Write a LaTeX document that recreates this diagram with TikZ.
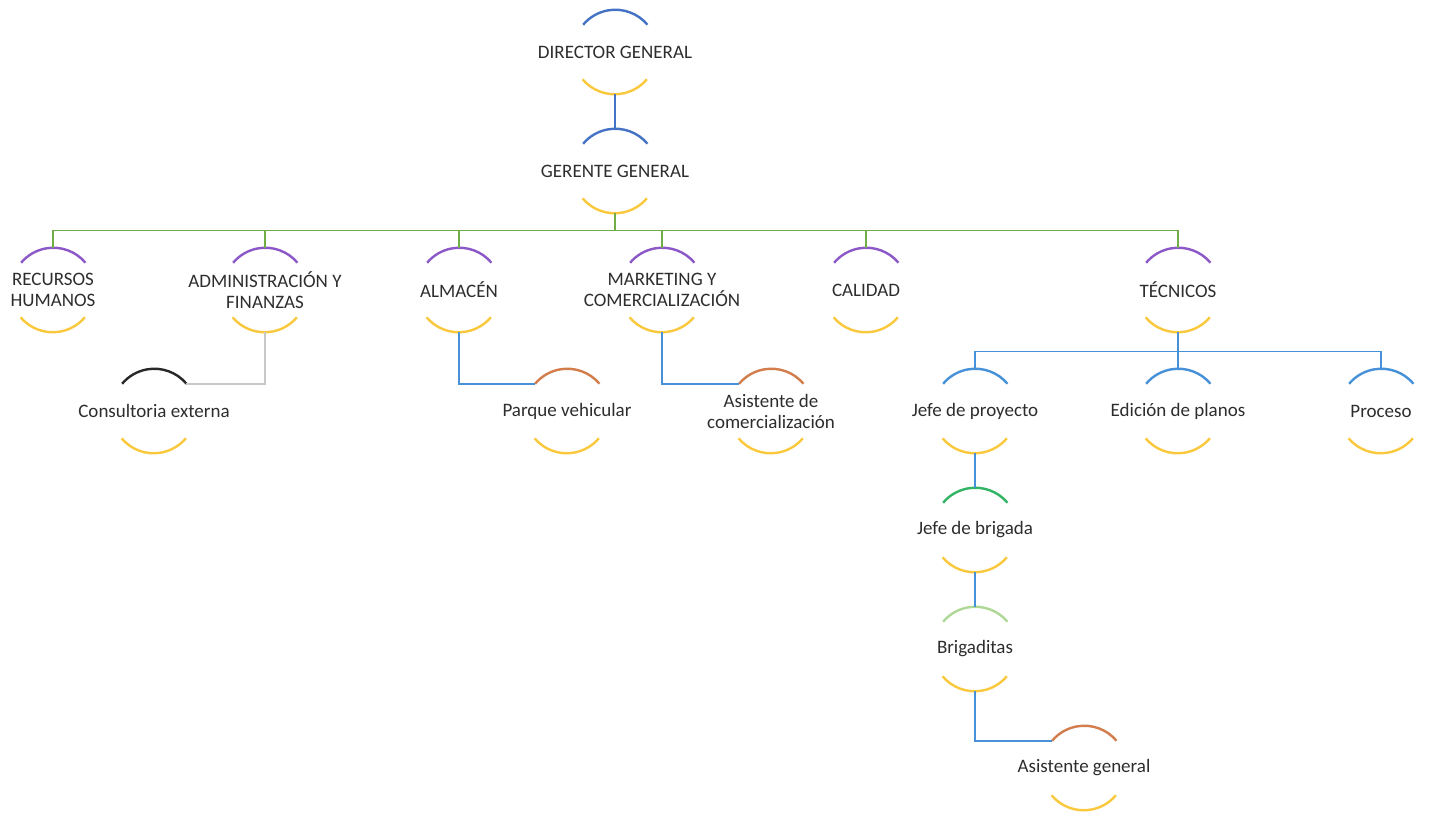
\documentclass[tikz,border=0pt]{standalone}
\usepackage{fontspec}
\setmainfont{Carlito}
\definecolor{azul}{RGB}{68,114,196}
\definecolor{morado}{RGB}{140,88,200}
\definecolor{negro}{RGB}{40,40,40}
\definecolor{naranja}{RGB}{210,125,75}
\definecolor{celeste}{RGB}{70,145,215}
\definecolor{verdeosc}{RGB}{50,180,100}
\definecolor{verdeclaro}{RGB}{175,215,150}
\definecolor{amarillo}{RGB}{250,200,60}
\definecolor{verde}{RGB}{112,173,71}
\definecolor{gris}{RGB}{200,200,200}
\definecolor{gristexto}{RGB}{45,45,45}
\tikzset{
  puesto/.style={circle, minimum size=42pt, inner sep=0pt},
  texto/.style={font=\fontsize{9.5}{10.5}\selectfont, text=gristexto, align=center},
  arco/.style={line width=1.2pt},
  linea/.style={line width=0.9pt},
}
\begin{document}
\begin{tikzpicture}[x=0.5pt, y=0.5pt]
                \useasboundingbox (0,0) rectangle (1430,-814);

                % direccion
                \node[puesto, label={[texto]center:DIRECTOR GENERAL}] (dg) at (615,-52) {};
                \node[puesto, label={[texto]center:GERENTE GENERAL}] (gg) at (615,-171) {};

                % areas
                \node[puesto, label={[texto]center:RECURSOS\\HUMANOS}] (rh) at (53,-290) {};
                \node[puesto, label={[texto]center:ADMINISTRACIÓN Y\\FINANZAS}] (adm) at (265,-290) {};
                \node[puesto, label={[texto]center:ALMACÉN}] (alm) at (459,-290) {};
                \node[puesto, label={[texto]center:MARKETING Y\\COMERCIALIZACIÓN}] (mkt) at (662,-290) {};
                \node[puesto, label={[texto]center:CALIDAD}] (cal) at (866,-290) {};
                \node[puesto, label={[texto]center:TÉCNICOS}] (tec) at (1178,-290) {};

                % tercer nivel
                \node[puesto, label={[texto]center:Consultoria externa}] (cons) at (154,-411) {};
                \node[puesto, label={[texto]center:Parque vehicular}] (par) at (567,-411) {};
                \node[puesto, label={[texto]center:Asistente de\\comercialización}] (asc) at (771,-411) {};
                \node[puesto, label={[texto]center:Jefe de proyecto}] (jp) at (975,-411) {};
                \node[puesto, label={[texto]center:Edición de planos}] (ed) at (1178,-411) {};
                \node[puesto, label={[texto]center:Proceso}] (pro) at (1381,-411) {};

                \node[puesto, label={[texto]center:Jefe de brigada}] (jb) at (975,-530) {};
                \node[puesto, label={[texto]center:Brigaditas}] (bri) at (975,-649) {};
                \node[puesto, label={[texto]center:Asistente general}] (asg) at (1084,-768) {};

                % arcos
                \foreach \n/\c in {dg/azul, gg/azul, rh/morado, adm/morado, alm/morado, mkt/morado,
                                   cal/morado, tec/morado, cons/negro, par/naranja, asc/naranja,
                                   jp/celeste, ed/celeste, pro/celeste, jb/verdeosc,
                                   bri/verdeclaro, asg/naranja} {
                    \draw[arco, \c] (\n.40) arc (40:140:21pt);
                    \draw[arco, amarillo] (\n.220) arc (220:320:21pt);
                }

                % conectores
                \draw[linea, azul] (dg.south) -- (gg.north);
                \foreach \n in {rh, adm, alm, mkt, cal, tec}
                    \draw[linea, verde] (gg.south) -- ++(0,-17) -| (\n.north);
                \draw[linea, gris] (adm.south) |- (cons.40);
                \draw[linea, celeste] (alm.south) |- (par.140);
                \draw[linea, celeste] (mkt.south) |- (asc.140);
                \foreach \n in {jp, ed, pro}
                    \draw[linea, celeste] (tec.south) -- ++(0,-19) -| (\n.north);
                \draw[linea, celeste] (jp.south) -- (jb.north);
                \draw[linea, celeste] (jb.south) -- (bri.north);
                \draw[linea, celeste] (bri.south) |- (asg.140);
\end{tikzpicture}
\end{document}
